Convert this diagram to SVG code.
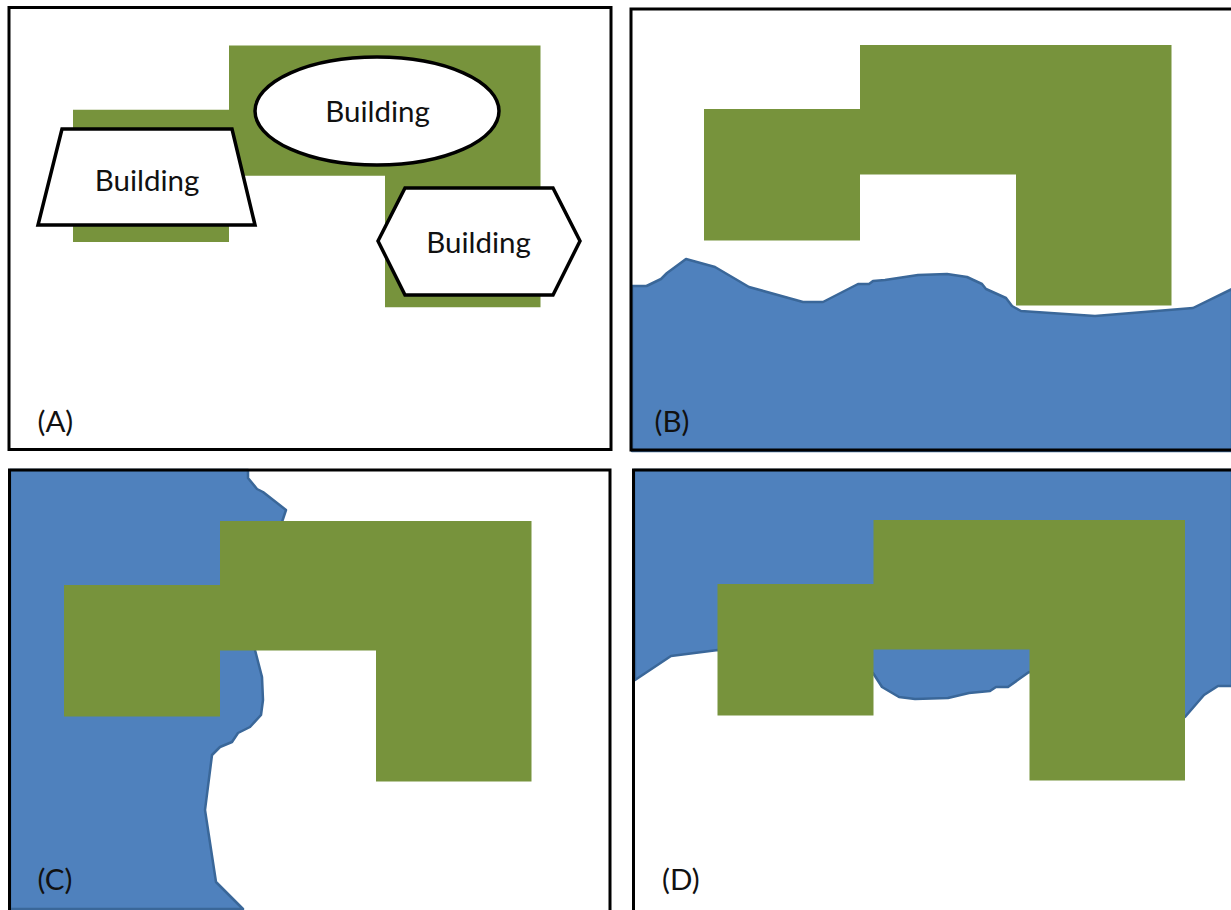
<svg xmlns="http://www.w3.org/2000/svg" width="1231" height="910" viewBox="0 0 1231 910">
<style>
.frame{fill:none;stroke:#000;stroke-width:3}
.green{fill:#77933c}
.water{fill:#4f81bd;stroke:#3a6799;stroke-width:2.500;stroke-linejoin:round}
.bld{fill:#fff;stroke:#000;stroke-width:3.500;stroke-linejoin:miter}
text{font-family:Lato,"Open Sans","Liberation Sans",sans-serif;font-size:29.500px;fill:#111}
.m{text-anchor:middle}
</style>
<defs>
<path id="lot" class="green" d="M0 0H311.500V260.500H156V129.500H0V195.500H-156V64H0Z"/>
</defs>
<rect width="1231" height="910" fill="#fff"/>
<g id="panel-a">
<use href="#lot" transform="translate(229,45.500) scale(1,1.005)"/>
<g id="building-ellipse"><ellipse class="bld" cx="377" cy="111" rx="122" ry="54"/><text class="m" x="377.500" y="122">Building</text></g>
<g id="building-trapezoid"><polygon class="bld" points="62,129 232,129 255,225 38,225"/><text class="m" x="147" y="191">Building</text></g>
<g id="building-hexagon"><polygon class="bld" points="378,241 405,188 553,188 580,241 553,295 405,295"/><text class="m" x="478.500" y="253">Building</text></g>
<text x="37.500" y="432">(A)</text>
<rect class="frame" x="9" y="7.500" width="602" height="442"/>
</g>
<g id="panel-b">
<polygon class="water" points="632,286 646.500,286 661,279 667,273 686,259 715,267 749,287 803,302 823,302 858,284 869,284 873,281 885,280 918,275 947,274 967,277 982,284 986,289 1006,298 1012,306 1021,311 1095,316 1193,308 1232,289 1232,451 632,451"/>
<use href="#lot" x="860" y="45"/>
<text x="654.500" y="432">(B)</text>
<rect class="frame" x="631" y="9" width="602" height="441"/>
</g>
<g id="panel-c">
<polygon class="water" points="10,470 248,470 248,478 257,489 263,492 286,510 282,522 255,650 262,677 263,700 261,715 250,727 238,733 232,742 220,747 212,755 205,810 216,882 243,909 10,909"/>
<use href="#lot" x="220" y="521"/>
<text x="37.500" y="890">(C)</text>
<path class="frame" d="M9.500 912V470H610V912"/>
</g>
<g id="panel-d">
<polygon class="water" points="634,470 1232,470 1232,686 1218,686 1204,695 1185,717 1029,672 1008,687 996,687 990,691 969,693 948,698 915,699 899,697 882,687 873,673 718,650 671,656 635,680"/>
<use href="#lot" x="873.500" y="520"/>
<text x="662" y="890">(D)</text>
<path class="frame" d="M633.500 912V470H1233"/>
</g>
</svg>
